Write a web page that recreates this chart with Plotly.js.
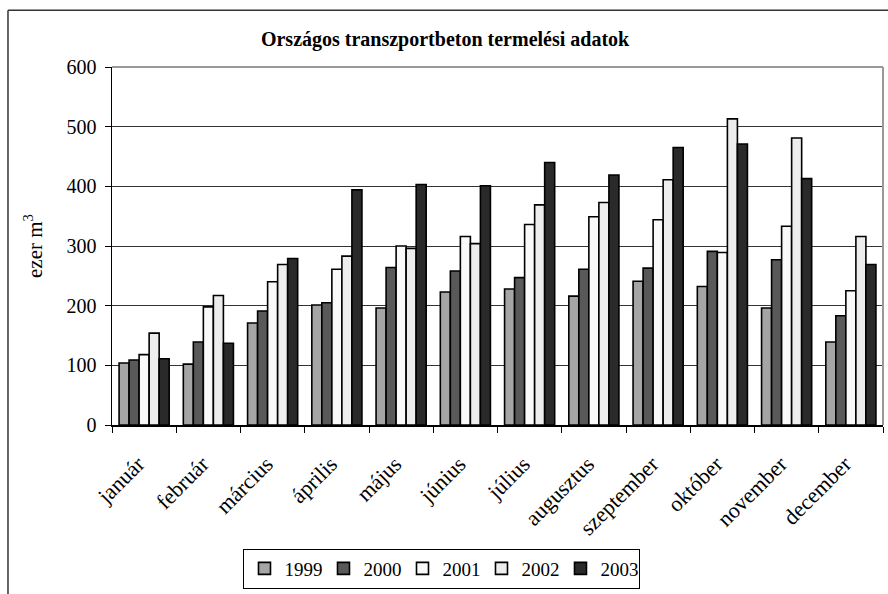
<!DOCTYPE html>
<html>
<head>
<meta charset="utf-8">
<script src="https://cdn.plot.ly/plotly-3.0.1.min.js"></script>
<style>html,body{margin:0;padding:0;background:#fff;}#chart{width:888px;height:594px;}</style>
</head>
<body>
<div id="chart"></div>
<script>
var months = ["január","február","március","április","május","június","július","augusztus","szeptember","október","november","december"];
var years = ["1999","2000","2001","2002","2003"];
var v1999 = [104, 102, 171, 201, 196, 223, 228, 216, 241, 232, 196, 139];
var v2000 = [109, 139, 191, 205, 264, 258, 247, 261, 263, 291, 277, 183];
var v2001 = [118, 198, 240, 261, 300, 316, 336, 349, 344, 289, 333, 225];
var v2002 = [154, 217, 269, 283, 296, 304, 369, 373, 411, 513, 481, 316];
var v2003 = [111, 137, 279, 394, 403, 401, 440, 419, 465, 471, 413, 269];
var yTicks = [0, 100, 200, 300, 400, 500, 600];

var seriesValues = [v1999, v2000, v2001, v2002, v2003];
var colors = ["#a5a5a5", "#595959", "#f9f9f9", "#ededed", "#2a2a2a"];

var traces = years.map(function (y, i) {
  return {
    type: "bar",
    name: y,
    x: months,
    y: seriesValues[i],
    marker: {color: colors[i], line: {color: "#000", width: 1.6}}
  };
});

var serif = "Liberation Serif";
var layout = {
  width: 888, height: 594,
  margin: {l: 112, r: 5, t: 67, b: 167},
  paper_bgcolor: "#fff", plot_bgcolor: "#fff",
  font: {family: serif, color: "#000", size: 18},
  title: {text: "<b>Országos transzportbeton termelési adatok</b>",
          font: {family: serif, size: 20, color: "#000"},
          x: 0.432, xref: "paper", xanchor: "center", y: 0.935, yref: "container", yanchor: "middle"},
  barmode: "group", bargap: 0.22, bargroupgap: 0,
  showlegend: true,
  legend: {orientation: "h", x: 0.428, xanchor: "center", y: -0.345, yanchor: "top",
           bordercolor: "#000", borderwidth: 1, bgcolor: "#fff", itemwidth: 30,
           entrywidth: 34, entrywidthmode: "pixels",
           font: {family: serif, size: 19, color: "#000"}, traceorder: "normal"},
  xaxis: {type: "category", showgrid: false, showline: true, linecolor: "#000", linewidth: 1.5,
          ticks: "outside", tickson: "boundaries", ticklen: 6, tickcolor: "#000", tickwidth: 1,
          tickangle: -45, ticklabelstandoff: 16, ticklabelshift: -6,
          tickfont: {family: serif, size: 22, color: "#000"}, fixedrange: true},
  yaxis: {range: [0, 600], tickvals: yTicks, ticktext: yTicks.map(String),
          showgrid: true, gridcolor: "#333", gridwidth: 1, zeroline: false,
          showline: true, linecolor: "#000", linewidth: 1.5,
          ticks: "outside", ticklen: 6, tickcolor: "#000", tickwidth: 1, ticklabelstandoff: 4,
          tickfont: {family: serif, size: 20, color: "#000"},
          title: {text: "ezer m<sup>3</sup>", font: {family: serif, size: 21, color: "#000"}, standoff: 18},
          fixedrange: true},
  shapes: [
    {type: "line", xref: "paper", yref: "paper", x0: 0, x1: 1, y0: 1, y1: 1, line: {color: "#999", width: 2}},
    {type: "line", xref: "paper", yref: "paper", x0: 1, x1: 1, y0: 0, y1: 1, line: {color: "#999", width: 2}},
    {type: "line", xref: "paper", yref: "paper", x0: -0.1349, x1: 1.2, y0: 1.1583, y1: 1.1583,
     line: {color: "#333", width: 1.5}},
    {type: "line", xref: "paper", yref: "paper", x0: -0.1349, x1: -0.1349, y0: -0.8, y1: 1.1583,
     line: {color: "#333", width: 1.5}}
  ]
};

Plotly.newPlot("chart", traces, layout, {staticPlot: true, displayModeBar: false});
</script>
</body>
</html>
